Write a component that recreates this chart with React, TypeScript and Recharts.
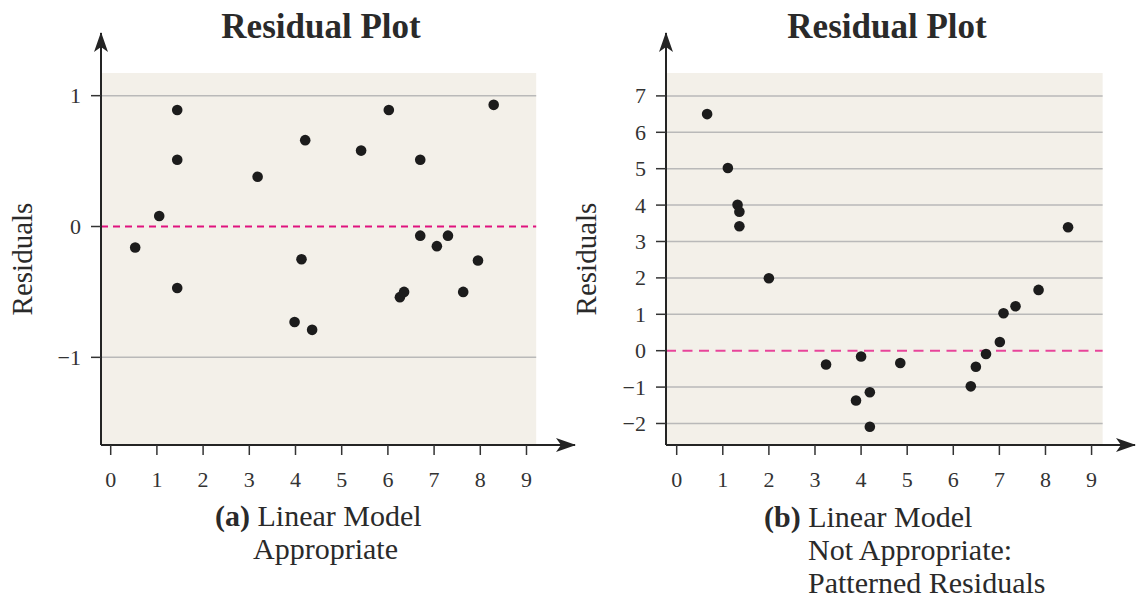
import React from 'react';
import {
  ScatterChart,
  Scatter,
  XAxis,
  YAxis,
  ReferenceArea,
  ReferenceLine,
} from 'recharts';

// ---------- data ----------
const xTicks = [0, 1, 2, 3, 4, 5, 6, 7, 8, 9];
const leftYTicks = [-1, 0, 1];
const rightYTicks = [-2, -1, 0, 1, 2, 3, 4, 5, 6, 7];

const leftX = [0.53, 1.05, 1.44, 1.44, 1.44, 3.18, 4.21, 4.13, 3.98, 4.36, 5.42, 6.02, 6.7, 6.7, 7.06, 7.3, 7.95, 7.63, 6.26, 6.35, 8.29];
const leftY = [-0.16, 0.08, 0.89, 0.51, -0.47, 0.38, 0.66, -0.25, -0.73, -0.79, 0.58, 0.89, 0.51, -0.07, -0.15, -0.07, -0.26, -0.5, -0.54, -0.5, 0.93];

const rightX = [0.66, 1.11, 1.32, 1.36, 1.36, 2.0, 3.24, 4.0, 3.89, 4.19, 4.19, 4.85, 6.38, 6.49, 6.71, 7.01, 7.09, 7.35, 7.85, 8.49];
const rightY = [6.5, 5.02, 4.01, 3.82, 3.42, 1.99, -0.38, -0.16, -1.37, -1.14, -2.09, -0.34, -0.98, -0.44, -0.09, 0.24, 1.03, 1.22, 1.67, 3.39];

const titleText = 'Residual Plot';
const yLabelText = 'Residuals';

// ---------- styling ----------
const FONT = "'Liberation Serif', 'Times New Roman', serif";
const BG = '#f3f0e9';
const GRID = '#b9b9b9';
const AXIS = '#242424';
const DOT = '#1c1c1c';
const TEXT = '#2a2a2a';
const TICK_TEXT = '#333';

const leftData = leftX.map((x, i) => ({ x, y: leftY[i] }));
const rightData = rightX.map((x, i) => ({ x, y: rightY[i] }));

const fmt = (v: number) => (v < 0 ? '\u2212' + Math.abs(v) : String(v));

const Dot = (props: any) => {
  const { cx, cy } = props;
  if (cx == null || cy == null) return null;
  return <circle cx={cx} cy={cy} r={5.3} fill={DOT} />;
};

const XTick = (props: any) => {
  const { x, payload } = props;
  return (
    <text x={x} y={487} textAnchor="middle" fontSize={22} fontFamily={FONT} fill={TICK_TEXT}>
      {fmt(payload.value)}
    </text>
  );
};

const YTick = (props: any) => {
  const { y, payload, labelRight } = props;
  return (
    <text
      x={labelRight}
      y={y + 7.5}
      textAnchor="end"
      fontSize={22}
      fontFamily={FONT}
      fill={TICK_TEXT}
    >
      {fmt(payload.value)}
    </text>
  );
};

type PanelProps = {
  data: { x: number; y: number }[];
  yTicks: number[];
  xDomain: [number, number];
  yDomain: [number, number];
  bgRight: number;
  bgTop: number;
  left: number;
  width: number;
  marginLeft: number;
  marginRight: number;
  dashColor: string;
  dash: string;
  labelRight: number;
};

const Panel = (p: PanelProps) => {
  const gridLines = p.yTicks.filter((t) => t !== 0);
  return (
    <div style={{ position: 'absolute', left: p.left, top: 0 }}>
      <ScatterChart
        width={p.width}
        height={599}
        margin={{ top: 33, right: p.marginRight, bottom: 104, left: p.marginLeft }}
      >
        <ReferenceArea
          x1={p.xDomain[0]}
          x2={p.bgRight}
          y1={p.yDomain[0]}
          y2={p.bgTop}
          fill={BG}
          fillOpacity={1}
          stroke="none"
          ifOverflow="visible"
        />
        {gridLines.map((t) => (
          <ReferenceLine
            key={t}
            segment={[
              { x: p.xDomain[0], y: t },
              { x: p.bgRight, y: t },
            ]}
            stroke={GRID}
            strokeWidth={1.5}
            ifOverflow="visible"
          />
        ))}
        <ReferenceLine
          segment={[
            { x: p.xDomain[0], y: 0 },
            { x: p.bgRight, y: 0 },
          ]}
          stroke={p.dashColor}
          strokeWidth={2}
          strokeDasharray={p.dash}
          ifOverflow="visible"
        />
        <XAxis
          type="number"
          dataKey="x"
          domain={p.xDomain}
          allowDataOverflow
          ticks={xTicks}
          interval={0}
          height={50}
          tickSize={10}
          tick={<XTick />}
          tickLine={{ stroke: '#333', strokeWidth: 1.5 }}
          axisLine={{ stroke: AXIS, strokeWidth: 2, markerEnd: 'url(#axisArrow)' } as any}
        />
        <YAxis
          type="number"
          dataKey="y"
          domain={p.yDomain}
          allowDataOverflow
          ticks={p.yTicks}
          interval={0}
          width={60}
          tickSize={10}
          tick={<YTick labelRight={p.labelRight} />}
          tickLine={{ stroke: '#333', strokeWidth: 1.5 }}
          axisLine={{ stroke: AXIS, strokeWidth: 2, markerStart: 'url(#axisArrow)' } as any}
        />
        <Scatter data={p.data} shape={<Dot />} isAnimationActive={false} />
      </ScatterChart>
    </div>
  );
};

export default function App() {
  return (
    <div
      style={{
        position: 'absolute',
        left: 0,
        top: 0,
        width: 1138,
        height: 599,
        background: '#ffffff',
        overflow: 'hidden',
      }}
    >
      <svg width={0} height={0} style={{ position: 'absolute' }}>
        <defs>
          <marker
            id="axisArrow"
            viewBox="0 0 20 14"
            markerWidth={20}
            markerHeight={14}
            refX={19}
            refY={7}
            markerUnits="userSpaceOnUse"
            orient="auto-start-reverse"
          >
            <path d="M0,0 L20,7 L0,14 L5,7 Z" fill={AXIS} />
          </marker>
        </defs>
      </svg>

      <Panel
        data={leftData}
        yTicks={leftYTicks}
        xDomain={[-0.21, 10.05]}
        yDomain={[-1.67, 1.479]}
        bgRight={9.21}
        bgTop={1.174}
        left={0}
        width={600}
        marginLeft={41}
        marginRight={25}
        dashColor="#e0127f"
        dash="7 5"
        labelRight={81}
      />
      <Panel
        data={rightData}
        yTicks={rightYTicks}
        xDomain={[-0.232, 9.942]}
        yDomain={[-2.591, 8.728]}
        bgRight={9.24}
        bgTop={7.629}
        left={560}
        width={578}
        marginLeft={46}
        marginRight={3}
        dashColor="#e8449a"
        dash="10 6.5"
        labelRight={86}
      />

      <svg
        width={1138}
        height={599}
        style={{ position: 'absolute', left: 0, top: 0, pointerEvents: 'none' }}
      >
        <g fontFamily={FONT} fill={TEXT}>
          <text x={321} y={38} textAnchor="middle" fontSize={35} fontWeight="bold">
            {titleText}
          </text>
          <text x={887} y={38} textAnchor="middle" fontSize={35} fontWeight="bold">
            {titleText}
          </text>

          <text x={32} y={259} textAnchor="middle" fontSize={29} transform="rotate(-90 32 259)">
            {yLabelText}
          </text>
          <text x={596} y={259} textAnchor="middle" fontSize={29} transform="rotate(-90 596 259)">
            {yLabelText}
          </text>

          <text x={215} y={526} fontSize={30}>
            <tspan fontWeight="bold">(a)</tspan> Linear Model
          </text>
          <text x={253} y={559} fontSize={30}>
            Appropriate
          </text>

          <text x={764} y={527} fontSize={30}>
            <tspan fontWeight="bold">(b)</tspan> Linear Model
          </text>
          <text x={808} y={560} fontSize={30}>
            Not Appropriate:
          </text>
          <text x={808} y={593} fontSize={30}>
            Patterned Residuals
          </text>
        </g>
      </svg>
    </div>
  );
}
